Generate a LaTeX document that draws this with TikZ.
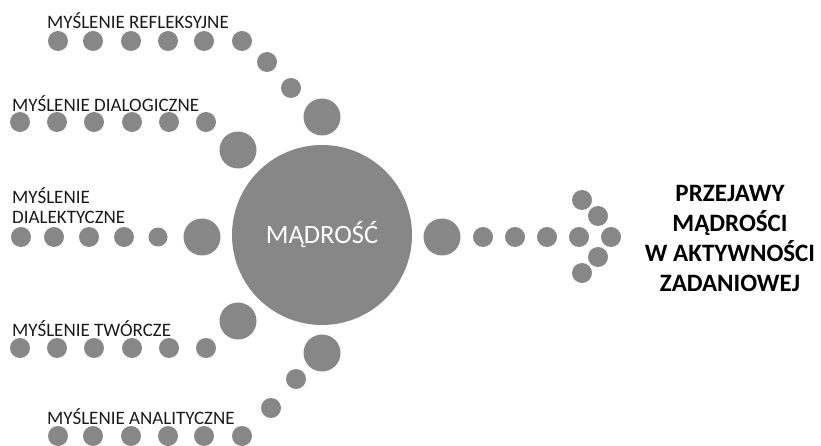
\documentclass[tikz,border=0pt]{standalone}
\usepackage{fontspec}
\setmainfont{Carlito}
\definecolor{dotgray}{HTML}{878787}
\definecolor{txt}{HTML}{1A1A1A}
\tikzset{
  dot/.style={circle,fill=dotgray,draw=none,inner sep=0pt,minimum size=20pt},
  bigdot/.style={dot,minimum size=37pt},
  lbl/.style={anchor=west,text=txt,inner sep=0pt,font=\fontsize{19}{20}\selectfont},
}
\begin{document}
\begin{tikzpicture}[x=1pt,y=-1pt]
\useasboundingbox (0,0) rectangle (821,446);
% center
\node[circle,fill=dotgray,minimum size=180pt,inner sep=0pt,text=white,font=\fontsize{26.5}{30}\selectfont] (m) at (322,235) {MĄDROŚĆ};
% refleksyjne
\node[lbl] (t1) at (47,21) {MYŚLENIE REFLEKSYJNE};
\foreach \x [count=\i] in {58,93,131,168,204,242} \node[dot] (a\i) at (\x,41) {};
\node[dot] (a7) at (267,62) {};
\node[dot] (a8) at (291,88) {};
\node[bigdot] (a9) at (322,117) {};
% dialogiczne
\node[lbl] (t2) at (12,104) {MYŚLENIE DIALOGICZNE};
\foreach \x [count=\i] in {20,57,94,132,169,206} \node[dot] (b\i) at (\x,122) {};
\node[bigdot] (b7) at (238,150) {};
% dialektyczne
\node[lbl,align=left] (t3) at (12,206) {MYŚLENIE\\DIALEKTYCZNE};
\foreach \x [count=\i] in {21,54,89,124} \node[dot] (c\i) at (\x,237) {};
\node[dot,minimum size=19pt] (c5) at (158,237) {};
\node[bigdot] (c6) at (202,237) {};
% tworcze
\node[lbl] (t4) at (12,329) {MYŚLENIE TWÓRCZE};
\foreach \x [count=\i] in {20,57,94,132,169,206} \node[dot] (d\i) at (\x,348) {};
\node[bigdot] (d7) at (238,321) {};
% analityczne
\node[lbl] (t5) at (47,417) {MYŚLENIE ANALITYCZNE};
\foreach \x [count=\i] in {58,93,131,168,204,242} \node[dot] (e\i) at (\x,436) {};
\node[dot] (e7) at (271,408) {};
\node[dot] (e8) at (296,379) {};
\node[bigdot] (e9) at (322,353) {};
% right arrow
\node[bigdot] (r0) at (442,237) {};
\foreach \x [count=\i] in {483,515,547,579} \node[dot] (r\i) at (\x,237) {};
\node[dot] (h1) at (582,200) {};
\node[dot] (h2) at (598,216) {};
\node[dot] (h3) at (611,237) {};
\node[dot] (h4) at (598,257) {};
\node[dot] (h5) at (582,273) {};
\node[align=center,text=black,font=\bfseries\fontsize{25}{30}\selectfont] (out) at (730,238) {PRZEJAWY\\MĄDROŚCI\\W AKTYWNOŚCI\\ZADANIOWEJ};
\end{tikzpicture}
\end{document}
